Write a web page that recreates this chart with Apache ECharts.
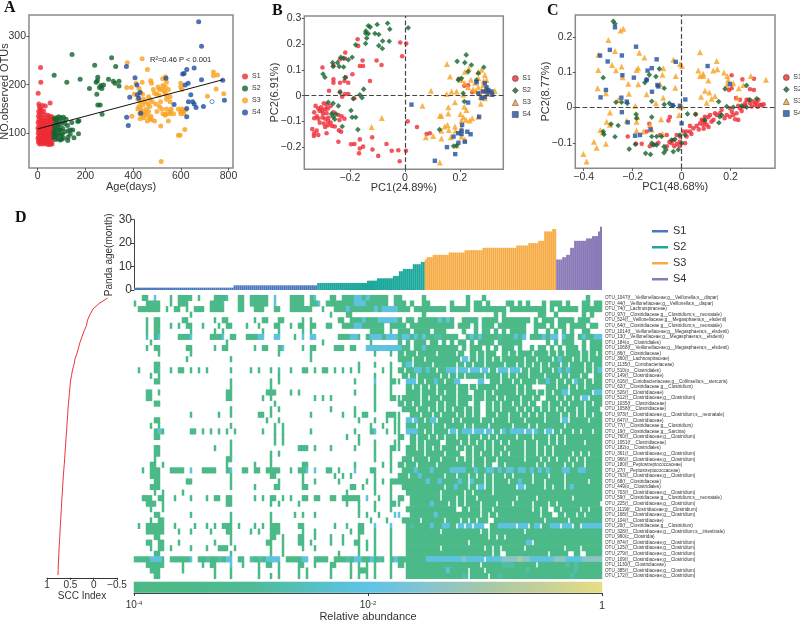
<!DOCTYPE html>
<html><head><meta charset="utf-8"><style>html,body{margin:0;background:#fff}#c{width:800px;height:620px}</style>
<script src="https://cdn.jsdelivr.net/npm/echarts@6/dist/echarts.min.js"></script></head>
<body><div id="c"></div>
<script>
// ---------- Panel A: age (days) vs observed OTUs ----------
const a1=[[12,235],[13,205],[2,182],[5,160],[7,155],[20,157],[32,156],[52,162],[10,150],[4,145],[14,148],[25,146],[8,140],[18,141],[30,138],[42,137],[50,135],[60,134],[3,135],[12,133],[22,132],[35,131],[46,129],[56,128],[64,130],[5,128],[15,127],[27,126],[38,124],[48,122],[58,121],[66,124],[2,122],[10,121],[20,120],[31,119],[41,117],[52,116],[62,117],[6,116],[16,114],[25,113],[36,112],[45,110],[56,110],[65,112],[1,111],[11,109],[21,108],[30,107],[40,105],[50,104],[60,105],[4,106],[14,103],[24,102],[33,101],[44,100],[54,99],[63,99],[2,100],[9,98],[19,97],[28,96],[38,95],[48,94],[58,93],[66,95],[5,93],[15,92],[25,91],[35,90],[45,89],[55,88],[62,90],[1,90],[10,88],[20,87],[30,85],[40,84],[50,83],[60,84],[6,85],[16,83],[26,82],[36,81],[46,80],[56,79],[3,82],[12,80],[22,78],[32,79],[42,77],[52,77],[60,78],[8,78],[18,103],[28,118],[42,126],[34,97],[24,124],[55,113],[47,102],[37,108],[13,95],[65,103]];
const a2=[[144,262],[310,255],[327,237],[239,240],[69,219],[122,205],[178,211],[252,215],[250,208],[245,205],[297,211],[317,207],[324,203],[341,197],[341,207],[217,192],[248,180],[259,194],[276,199],[269,192],[265,198],[252,158],[262,158],[270,139],[173,126],[168,124],[143,122],[119,129],[108,133],[97,132],[80,127],[138,107],[147,107],[171,99],[152,91],[136,98],[126,85],[108,90],[70,130],[76,121],[88,125],[95,118],[104,124],[114,120],[125,116],[70,115],[78,109],[86,113],[95,107],[105,110],[72,102],[80,97],[88,100],[97,96],[68,92],[76,87],[85,90],[94,86],[103,98],[70,107],[82,118],[128,105],[113,103],[100,88],[90,107],[66,100],[78,132],[88,134],[127,92],[75,95]];
const a3=[[438,253],[376,245],[460,231],[737,226],[754,220],[737,218],[536,216],[524,212],[540,205],[438,205],[474,208],[477,203],[373,194],[393,194],[412,203],[505,195],[525,198],[535,195],[520,190],[530,187],[510,190],[548,190],[600,203],[600,195],[605,190],[748,191],[780,181],[712,176],[425,192],[430,185],[440,180],[485,190],[490,182],[500,180],[510,178],[540,178],[555,175],[465,175],[470,170],[450,165],[462,160],[480,165],[495,160],[515,165],[540,170],[555,165],[420,170],[430,165],[440,158],[425,155],[432,150],[440,145],[455,150],[470,155],[440,138],[420,150],[445,132],[458,137],[470,130],[475,135],[490,125],[540,140],[555,145],[525,140],[535,137],[548,125],[560,150],[570,140],[590,150],[600,145],[605,150],[610,145],[620,148],[395,135],[516,115],[617,108],[590,96],[597,96],[518,42],[478,128],[460,125],[540,150],[555,140],[465,145],[430,130],[510,155],[500,145],[520,150],[445,170],[428,140],[450,142],[405,180],[535,182],[600,140],[612,140]];
const a4=[[675,329],[687,279],[656,234],[625,231],[614,223],[608,222],[687,210],[776,209],[631,203],[618,199],[372,237],[408,214],[416,199],[538,213],[386,174],[429,184],[418,179],[424,172],[642,179],[632,165],[650,165],[656,160],[664,153],[695,155],[783,168],[572,159],[625,151],[625,134],[432,141],[373,133],[380,116]];
const a4Open=[[731,165]];
const regressionLine=[[0,109],[776,210]];
const aLegend=['A-S1','A-S2','A-S3','A-S4'];
// ---------- Panel B: PCoA ----------
const b1=[[-.017,.206],[.005,.202],[-.01,.153],[-.103,.136],[-.085,.119],[-.17,.193],[-.172,.219],[-.217,.167],[-.236,.141],[-.218,.144],[-.26,.117],[-.3,.109],[-.154,.136],[-.164,.115],[-.152,.115],[-.127,.057],[-.191,.083],[-.215,.071],[-.22,.057],[-.206,.05],[-.236,.05],[-.26,.063],[-.26,.05],[-.276,.019],[-.236,.016],[-.218,.006],[-.206,.006],[-.228,-.004],[-.184,-.01],
[-.325,-.04],[-.315,-.05],[-.305,-.045],[-.295,-.03],[-.285,-.035],[-.31,-.06],[-.3,-.058],[-.29,-.052],[-.28,-.05],[-.27,-.04],[-.33,-.065],[-.32,-.08],[-.298,-.07],[-.285,-.068],[-.33,-.088],[-.315,-.09],[-.3,-.085],[-.29,-.09],[-.278,-.086],[-.26,-.065],[-.242,-.075],[-.23,-.08],[-.31,-.105],[-.295,-.108],[-.28,-.1],[-.27,-.105],[-.255,-.12],[-.238,-.095],[-.22,-.09],[-.29,-.122],[-.28,-.115],[-.265,-.118],[-.24,-.135],[-.232,-.14],
[-.285,-.146],[-.331,-.157],[-.33,-.146],[-.337,-.13],[-.321,-.136],[-.315,-.153],[-.242,-.179],[-.196,-.189],[-.184,-.188],[-.164,-.17],[-.119,-.162],[-.152,-.198],[-.164,-.205],[-.167,-.224],[-.118,-.209],[-.097,-.234],[-.067,-.188],[-.048,-.214],[-.024,-.212],[.004,-.214],[-.019,-.255],[.01,-.1],[.044,-.122],[.079,-.149],[.091,-.146],[.245,.013],[.196,.065],[.23,.04],[.216,.038],[.293,.018]];
const b2=[[.012,.263],[-.063,.281],[-.101,.276],[-.133,.271],[-.126,.266],[-.055,.258],[-.142,.251],[-.143,.242],[-.133,.24],[-.109,.241],[-.095,.237],[-.057,.211],[-.081,.212],[-.095,.194],[-.082,.183],[-.139,.223],[-.143,.202],[-.179,.197],[-.192,.149],[-.233,.149],[-.224,.145],[-.206,.139],[-.263,.128],[-.245,.128],[-.261,.113],[-.239,.113],[-.223,.111],[-.298,.084],[-.291,.071],[-.218,.07],[-.15,.025],[-.236,.012],[-.164,.003],[-.188,-.012],[-.156,-.008],[-.279,-.026],[-.261,-.03],[-.242,-.04],[-.196,-.058],[-.267,-.071],[-.251,-.071],[-.261,-.082],[-.255,-.092],[-.192,-.084],[-.179,-.084],[-.228,-.12],[-.171,-.132],[.223,.158],[.19,.133],[.218,.128],[.242,.119],[.287,.11],[.194,.061],[.206,.067],[.212,.009],[.216,-.023],[.126,-.132],[.177,-.196],[.188,-.194],[.26,.06],[.23,.093],[.267,.087]];
const b3=[[.153,.123],[.164,.074],[.095,.019],[.064,-.039],[-.084,-.087],[-.121,-.122],[.127,-.078],[.133,-.078],[.158,-.069],[.158,-.045],[.182,-.026],[.216,-.043],[.224,-.056],[.202,-.071],[.213,-.084],[.206,-.097],[.222,-.094],[.236,-.097],[.245,-.088],[.267,-.082],[.155,-.114],[.145,-.12],[.16,-.133],[.133,-.136],[.182,-.12],[.184,-.136],[.206,-.127],[.103,-.157],[.076,-.162],[.133,-.166],[.167,-.162],[.206,-.159],[.218,-.17],[.127,-.26],[.188,-.194],[.218,.093],[.233,.106],[.267,.093],[.279,.1],[.291,.08],[.206,.061],[.218,.048],[.188,.016],[.17,.016],[.152,.006],[.23,.032],[.248,.025],[.267,.032],[.279,.021],[.285,.041],[.297,.032],[.313,.016],[.327,.019],[.276,-.004],[.291,-.01],[.303,.006],[.276,-.032],[.212,.003],[.267,.067],[.297,.061],[.273,.009],[.255,.05],[.24,.062],[.258,.018],[.286,.058],[.3,.02]];
const b4=[[.024,-.035],[.109,-.253],[.153,-.2],[.183,-.227],[.195,-.183],[.177,-.159],[.194,-.146],[.208,-.114],[.206,-.136],[.206,-.149],[.227,-.14],[.239,-.15],[.218,-.179],[.23,-.027],[.27,-.082],[.261,.052],[.291,.048],[.297,.032],[.303,.022],[.315,.016],[.318,.003],[.291,-.006],[.279,-.01],[.267,.009],[.285,.016],[.3,.012]];
const bLegend=['B-S1','B-S2','B-S3','B-S4'];
// ---------- Panel C: PCoA ----------
const c1=[[-.22,-.082],[-.186,-.103],[-.163,-.103],[-.143,-.068],[-.132,-.046],[-.048,-.027],[-.054,-.037],[-.088,-.078],[-.061,-.078],[-.041,-.101],[-.02,-.103],[-.007,-.097],[.014,-.101],[.02,-.082],[.034,-.068],[.048,-.059],[.061,-.052],[.075,-.045],[.082,-.035],[.095,-.026],[.109,-.027],[.088,-.049],[.102,-.049],[.116,-.021],[.136,-.016],[.156,-.016],[.184,-.021],[.197,-.026],[.211,-.021],[.224,-.016],[.238,-.002],[.252,.003],[.265,.022],[.279,.012],[.293,.017],[.306,.014],[.32,.008],[.313,.022],[.204,.092],[.248,.08],[.295,.082],[.279,.052],[.295,.05],[.193,.05],[.204,.055],[.222,.027],[.238,.022],[.218,-.033],[.231,-.035],[.143,-.021],[.163,-.007],[.197,-.002],[.231,.005],[.259,.012],[.272,.022],[.286,.003],[.299,.008],[.327,.007],[-.007,-.082],[-.02,-.078],[-.034,-.092],[.007,-.068],[.02,-.068],[.034,-.052],[.057,-.019],[.088,-.037],[.095,-.04],[.122,-.04],[-.11,-.105],[-.095,-.1],[-.13,-.11],[-.06,-.11],[-.05,-.098],[-.03,-.11],[-.008,-.11],[.04,-.075],[.07,-.062],[.09,-.06],[.11,-.055],[.13,-.035],[.175,-.03],[.205,-.012],[.245,-.01],[.26,.005],[.31,.002],[.335,.009]];
const c2=[[-.279,.245],[-.272,.238],[-.32,.085],[-.091,.11],[-.105,.088],[-.132,.093],[-.143,.079],[-.15,.071],[-.071,.055],[-.122,.018],[-.268,.015],[-.245,.015],[-.222,.012],[-.071,.009],[-.05,.012],[-.034,.005],[-.186,-.019],[-.184,-.03],[-.122,-.027],[-.288,-.047],[-.259,-.051],[-.317,-.076],[-.32,-.068],[-.272,-.083],[-.189,-.104],[-.214,-.118],[-.147,-.13],[-.127,-.133],[-.122,-.101],[-.116,-.106],[-.102,-.106],[-.122,-.082],[-.102,-.082],[-.082,-.082],[-.072,-.111],[-.064,-.12],[-.072,-.128],[-.034,-.125],[-.014,-.12],[-.041,-.092],[-.027,-.09],[-.007,-.078],[.014,-.078],[0,-.101],[.024,-.018],[.057,-.019],[.177,.053],[.265,.063],[.151,.017],[.184,.003],[.156,-.026],[.152,-.043],[.095,-.035],[.163,-.021],[.245,.005],[.265,.001],[.306,.025],[.279,.022],[.211,.001]];
const c3=[[-.299,.192],[-.238,.224],[-.249,.219],[-.34,.15],[-.272,.161],[-.173,.156],[-.152,.142],[-.34,.107],[-.245,.117],[-.268,.106],[-.177,.112],[-.184,.107],[-.284,.121],[-.241,.086],[-.218,.068],[-.177,.066],[-.343,.055],[-.309,.041],[-.215,.039],[-.143,.038],[-.075,.112],[-.078,.093],[-.088,.067],[-.024,.09],[-.026,.056],[-.034,.136],[-.007,.124],[.001,.118],[-.075,.028],[-.105,.012],[-.189,.005],[-.259,.022],[-.293,-.014],[-.007,.003],[.001,.003],[-.011,-.021],[-.084,-.033],[-.224,-.037],[-.184,-.04],[-.181,-.027],[-.306,-.04],[-.293,-.049],[-.332,-.064],[-.322,-.07],[-.358,-.097],[-.347,-.114],[-.309,-.103],[-.401,-.132],[-.388,-.153],[-.129,-.049],[-.122,-.062],[-.184,-.065],[-.156,-.068],[-.078,-.075],[.075,.157],[.143,.132],[.068,.105],[.088,.096],[.075,.09],[.088,.09],[.109,.077],[.129,.105],[.146,.109],[.173,.1],[.186,.09],[.19,.079],[.211,.069],[.233,.055],[.252,.064],[.282,.09],[.344,.079],[.095,.048],[.113,.043],[.079,.031],[.136,.033],[.122,.025],[.102,.014],[.227,.027],[.184,.064]];
const c4=[[-.272,.228],[-.293,.164],[-.333,.148],[-.244,.148],[-.186,.173],[-.302,.131],[-.242,.092],[-.195,.085],[-.139,.105],[-.122,.112],[-.102,.137],[-.024,.13],[.106,.118],[-.099,.064],[-.121,.045],[-.309,.05],[-.331,.029],[-.246,.028],[-.224,.017],[-.244,-.013],[-.22,-.042],[.015,.023],[-.038,.007],[-.007,.005],[0,-.045],[.197,.067],[-.17,-.078],[-.19,-.08],[-.127,-.062],[-.143,.079],[-.095,.06]];
const cLegend=['C-S1','C-S2','C-S3','C-S4'];
// ---------- Panel D: age bars ----------
const ageS1=[1,1,1,1,1,1,1,1,1,1,1,1,1,1,1,1,1,1,1,1,1,1,1,1,1,1,1,1,1,1,1,1,1,1,1,1,1,1,1,1,1,1,1,1,1,1,1,1,1,1,2,2,2,2,2,2,2,2,2,2,2,2,2,2,2,2,2,2,2,2,2,2,2,2,2,2,2,2,2,2,2,2,2,2,2,2,2,2,2,2,2,2];
const ageS2=[3,3,3,3,3,3,3,3,3,3,3,3,3,3,3,3,3,3,3,3,3,3,3,3,3,4,4,4,4,4,5,5,5,5,5,5,5,5,6,6,6,8,8,9,9,9,9,9,11,11,11,11,12,12];
const ageS3=[13,14,14,14,15,15,15,15,15,15,15,15,16,16,16,16,16,16,16,16,17,17,17,17,17,17,17,17,17,18,18,18,18,18,18,18,18,18,18,18,18,18,18,18,18,18,19,19,19,19,19,19,20,20,20,20,20,21,21,21,25,25,25,25,26,26];
const ageS4=[13,13,13,14,14,15,15,18,18,21,21,21,21,21,21,22,22,22,23,23,23,25,27];
const dLegend=['D-S1','D-S2','D-S3','D-S4'];
// ---------- Panel D: OTU labels ----------
const otuLabels=['OTU_1047(f__Veillonellaceae;g__Veillonella;s__dispar)','OTU_44(f__Veillonellaceae;g__Veillonella;s__dispar)','OTU_74(f__Lachnospiraceae)','OTU_97(f__Clostridiaceae;g__Clostridium;s__neonatale)','OTU_524(f__Veillonellaceae;g__Megasphaera;s__elsdenii)','OTU_64(f__Clostridiaceae;g__Clostridium;s__neonatale)','OTU_1014(f__Veillonellaceae;g__Megasphaera;s__elsdenii)','OTU_13(f__Veillonellaceae;g__Megasphaera;s__elsdenii)','OTU_184(o__Clostridiales)','OTU_1068(f__Veillonellaceae;g__Megasphaera;s__elsdenii)','OTU_86(f__Clostridiaceae)','OTU_360(f__Lachnospiraceae)','OTU_1135(f__Coriobacteriaceae)','OTU_510(o__Clostridiales)','OTU_149(f__Clostridiaceae)','OTU_616(f__Coriobacteriaceae;g__Collinsella;s__stercoris)','OTU_62(f__Clostridiaceae;g__Clostridium)','OTU_526(f__Clostridiaceae)','OTU_512(f__Clostridiaceae;g__Clostridium)','OTU_1035(f__Clostridiaceae)','OTU_1058(f__Clostridiaceae)','OTU_973(f__Clostridiaceae;g__Clostridium;s__neonatale)','OTU_647(f__Clostridiaceae)','OTU_77(f__Clostridiaceae;g__Clostridium)','OTU_19(f__Clostridiaceae;g__Sarcina)','OTU_760(f__Clostridiaceae;g__Clostridium)','OTU_1051(f__Clostridiaceae)','OTU_182(o__Clostridiales)','OTU_361(f__Clostridiaceae;g__Clostridium)','OTU_966(f__Clostridiaceae;g__Clostridium)','OTU_180(f__Peptostreptococcaceae)','OTU_27(f__Peptostreptococcaceae)','OTU_763(f__Clostridiaceae;g__Clostridium)','OTU_68(f__Clostridiaceae)','OTU_449(o__Clostridiales)','OTU_703(f__Clostridiaceae;g__Clostridium)','OTU_59(f__Clostridiaceae;g__Clostridium;s__neonatale)','OTU_225(f__Clostridiaceae;g__Clostridium)','OTU_1119(f__Clostridiaceae;g__Clostridium)','OTU_168(f__Clostridiaceae;g__Clostridium)','OTU_104(f__Clostridiaceae)','OTU_20(f__Clostridiaceae;g__Clostridium)','OTU_328(f__Clostridiaceae;g__Clostridium;s__intestinale)','OTU_960(c__Clostridia)','OTU_874(f__Clostridiaceae;g__Clostridium)','OTU_125(f__Clostridiaceae;g__Clostridium)','OTU_279(f__Clostridiaceae;g__Clostridium)','OTU_109(f__Clostridiaceae;g__Clostridium)','OTU_1130(f__Clostridiaceae)','OTU_385(f__Clostridiaceae;g__Clostridium)','OTU_172(f__Clostridiaceae;g__Clostridium)'];
// SCC index per OTU row
const sccValues=[-.3,-.114,.014,.079,.132,.154,.207,.25,.293,.325,.357,.4,.421,.454,.475,.496,.507,.518,.529,.539,.55,.556,.565,.573,.58,.59,.597,.606,.613,.622,.63,.64,.648,.657,.664,.67,.679,.686,.692,.7,.706,.713,.72,.726,.733,.74,.745,.752,.756,.76,.764];
const sccTicks=[1,.5,0,-.5];
// Heatmap cells, one string per OTU row: . absent, 1..5 abundance class
const heatLeft=["..11.3...1.1111.1...1112..11.11111.3....","1..1111..1.111.....1112...11.11111.3...1",".111111.1.11.1.111.1111...11..111..11...","..............1.........................","...1.11.....11......1.11......1.11..11..","...1.11..1.1.11..1...1.11...1..1...11..1","...1.11.......1.....1.1.........1...1...","...2.13....1113....1113.11..11133..33...","....1..................1................","...1.11......11.....1.11......1.11..13..","......1.......1.....................1...",".............1..........1...............",".....11.................................",".1...12..1.11.1.1.1.....1....1.1..1.2..1","....1.1.............................1...",".....11.................1.........1.1...","........................1.........1.....","...11.1................11........111....","...11..................11.......1.1.....",".....11............................1....","........................1.........1.1...","..............1......1..1......11.1.....",".....11..........................1..1...","....1.1.................1..........1.1..",".....131......11.1.1.1.1.1......1..1.1..",".....11............................1.1..","........................1..........1.1..",".....11.............1...1...............",".....11.................1.........1.1...",".....1.................11.........1.....","....11.1...............1......1...1.....","..1.111..1111.3..1111..13..11.11.1111..1","....111.................1.........11....",".....11......11.........1...........1...","....111.................1.....1....11...",".....1.1....1...........................","..111.11..1...1...1.11.11.....1.1.11.1.1","...111.1...............11.........1.1...","....1..1................................",".....11.......1.........1.........1.....","....1.11................1.........1.....",".1.11111..1....1..1.1.111.1...1.1.111...","...11111...1..1....1...11....1.1..111...",".....11.................1.........11.1..","...11.11...1........1...1........11..1..","....1.11.1....1...1..111.1........1..1..",".....11.................1.........1..1..","11113331.111113.112112133.11.21213333.11","...11111....1....1.11...3..1...1.11.1...","....111.....1.......1...1......1....1...",".....11.............1...1......1..1.1..."];
const heatMid=["1111.13...11.111331311111.11.....1......","1111.113.1111111333111111.111.1..11.....","111111..1..1113111111313333111.11111111.","..........1...11.................1......","...1.1......11.1113111333331.11.11111313","1.11.11..11..11133111111.1111.1111111111","...1.1..............1111.1.111.1111.111.",".1.3.33.....111331.133313331331313112211","........1...........1......1.1.111.11.1.","...1.11....111.11..33333333311.113111111",".....1...............1...1.1.11.1111.111",".....1.....................111.11.111111",".................1...1...1..13.1111.1111","1..11.1.11.1.1.1.1.....1.1.1.1133131.113",".....................1...1..1.1.11111.1.","................1....3...11..33.1.1131.1",".....................1...1...1.1.1.1.111","1.1.............1....1...1...111.111.1.1","......1.1.1..........1...11.1111.1.11.11",".....................1.....1.1.1.111.1.1","..........1.....1....1......111.11.1.1.1",".....1.......1..1.11....111...11.11.1.11",".................1...1..1.1..3.31.13.111","....................1..1..1..11.111.11.1",".....1..........1...13..1.1..3331.1.111.","..............1..1.........1..1.11.1.1.1",".................1...1....1...1.1.111..1","..111.1...1.....1....1...11..11.1.1.1.11",".....................1...1...1111.1111.1",".....................1...1..11.111.11.11","...11...........1......1.1.1.11.1111.111","1.113.3..11.1...3...11...1..111311131111","...1.......1.1.1.....1.....11.11311111.1","...1..1.....1......1.1.1.111111111311311","...11..........11.1..1...1..1111111111.1","..............1......1...1...11111111.11","1..11.11..11.11111.3..1..1.1..1111111.11","..1...........1..1...1...11...111113111.",".................1...1...1...11111111111",".1.1..1..........1.1..1...3...1111113111","....................1...1...1111.11111.1","..11.......1..2..11..3...3...12111131133","...1..1........1.11..1...1...11111111.11","..11..1...1..1...1...1...1...11111111111","..11.1....1..1..11.1.1...1...11111111111","...1..1..........1.1.1...1...11111111.11","............1....1...1...1...11111111111","11133.1111.1112133113121.131111111333333","..11..1...11...1.1.1.1...1.1.11111111111","..1.1.....1....1.111.1...1...11111111113","..1.1.....1....1.1.1.1...1...11111111111"];
const heatRight=["....1...1.........................1...","1...1.11.1....11.1.1...1.111.1...11.11","11111.11111111.111111111.1.11111.11111","...........1.1........11..1......1.1..","1..1111.1111.1111111.1.111.1111.111...","1.111.1.111.1111111..111.1.11.1111.11.","...1..1.11.1.1.1111..1..1.1.1.1..11...","11..131311112111313.1113133.311.131133","1.11.1.1111.111111......1.1.111..1.111","11.1.111.1.1.111.1..1.11.1.1.111.1.111","1.1..1.1.11..1.1.111.111.1.1.111.1.1.1","11.3.1.1.1.1.11111.11.111.1311.1.1.111","1.1.1.11.1111.11.1.1.1.1.11.1.111.1.11","3.33.33.3.1.33.33.1.11.11.1313111.1.13","1.1.1111.111.1.1.11.111.111.1.11.1..11","13.....3..11.11.1.111.1131.1.1.31.1.11","1.11.1.1111.1111.1.1....11.11.1.1.1111","1.11..11.1.11111.1.11.1.1.113.11111.33","1.111.11.11.1.111.11.1..11.1.1.1.3.111","1.11..1..1.1.11.1.1.1..1.11.1.111.1.11",".11.1.1..1.1.111.1.1.1.1.1.1.11.1.111.","1.1.1.1..11.11.11.1.1.1.111.1.1.1.1.11",".1.1111.11.111.111.1111.111.3.1111.111","111.1.111.11111.111.1.111111.111111111","3.133.33.3.1.31333.3.31.3.1.11.1.11.11","1.11.11.1.1.1111.111.111.1.1.111111111","11.1.1.1.1.1.1.111.11.11.1.1.1111.1111","1.1.1.11.1.11.1111.11.1.1.111111111111","11..1.1.11.1.1.111.11.1.1.1111.1.1.111","1.1.1.11.11.111111.111.1.1.11.1.1.1111","11111.11.1..1.1111111.1.1111.1.11.1111","33331131133131331331313131113311331111","1.11.1.1.1.11.1.1111.111.111.111111111","1131.311.1.111.11311.11.1111.11111.111","1311.1.3.1.11111.3.1111.1.11.131111111","111.1.1111.111111111111111111111111111","1.1.11.111111111.1111.11111111.1111111","1.1.111.111.111.1111.111.1.1111111111.","1..1.11.11.111111111.1.1..1.1111.1.111","1111111.1.1.1111111111.11..1.11.1.1111","11.1.1.11..111111111111.11111.11111111","1.3.3.33..113333.33.13.1133.33.1.33333","1111111.1.11111111.1111111111111111111","111111111.1.1.111111111111111111111111","1111.111111111111113.11111111111111111","11111111.1.1.11111.111111111.111.11111","1111111111.1..1111111111.1111..1..1111","33343333.33334444544333333444333344444","1111111.1111122211111.1111111212111111","1111.111.111111111121111111111121111111","1112.1111.1121111111111111111121111111"];
const abundanceClass={'1':-3.7,'2':-2.8,'3':-2.1,'4':-1.4,'5':-.8};
const colorStops=['#4cb985','#4cb98a','#4fbb96','#56bfc0','#60c3e8','#85c4d0','#a5c8a8','#c5d098','#e8de82'];
const colorbarTicks=[-4,-2,0];

// ---------- assembly ----------
const C={S1:'#ee2a35',S2:'#13632e',S3:'#f9a11f',S4:'#1f4ea1'};
const ff='"Liberation Sans",Arial,sans-serif';
const txt='#333';
const heatRows=otuLabels.map((_,i)=>heatLeft[i].padEnd(39,'.').slice(0,39)+heatMid[i].padEnd(40,'.').slice(0,40)+heatRight[i].padEnd(38,'.').slice(0,38));
// each class char covers two 2px heat columns; sparse left part keeps lone cells thin, dense right part keeps gaps thin
const heatData=[];
heatRows.forEach((r,y)=>{for(let x=0;x<r.length;x++){const ch=r[x];if(ch==='.'){if(x>=66&&r[x-1]!=='.'&&y>=10)heatData.push([2*x,y,abundanceClass[r[x-1]]]);continue;}const v=abundanceClass[ch];heatData.push([2*x,y,v]);if(x>=66||(r[x+1]&&r[x+1]!=='.'))heatData.push([2*x+1,y,v]);}});
const colIdx=[...Array(234).keys()].map(String);
const rampCols=[...Array(234).keys()].map(String);
const rampData=rampCols.map((c,i)=>[i,0,-4+4*(i+.5)/234]);
const ageAll=ageS1.concat(ageS2,ageS3,ageS4);
const barCats=ageAll.map((_,i)=>String(i));
function pad(arr,before){const n=ageAll.length;const out=new Array(n).fill('-');arr.forEach((v,i)=>out[before+i]=v);return out;}
const minus=v=>String(v).replace('-','\u2212');
function axis(min,max,ticks,name,gap,margin){return {type:'value',min,max,name,nameLocation:'middle',nameGap:gap,nameMoveOverlap:false,nameTextStyle:{color:txt,fontSize:11,fontFamily:ff},
 splitLine:{show:false},axisLine:{show:false,onZero:false},axisTick:{show:true,length:2.5,customValues:ticks,lineStyle:{color:'#555'}},
 axisLabel:{customValues:ticks,fontSize:10.5,color:txt,margin:margin,fontFamily:ff,formatter:v=>minus(v),showMinLabel:true,showMaxLabel:true}};}
const dashed={silent:true,symbol:'none',animation:false,label:{show:false},lineStyle:{type:'dashed',color:'#444',width:1.2},data:[{xAxis:0},{yAxis:0}]};
function sc(name,data,g,sym,size,color,extra){return Object.assign({type:'scatter',name,data,xAxisIndex:g,yAxisIndex:g,symbol:sym,symbolSize:size,itemStyle:{color},silent:true,animation:false},extra||{});}
function leg(names,left,top,gap,border,icons){return {data:names.map((n,i)=>({name:n,icon:icons[i]})),formatter:n=>n.split('-')[1],orient:'vertical',left,top,itemWidth:6,itemHeight:6,itemGap:gap,padding:0,selectedMode:false,textStyle:{fontSize:7,color:txt,fontFamily:ff,padding:[0,0,0,-1]},
 itemStyle:border?{borderColor:'#333',borderWidth:.6}:{}};}
const grids=[
 {left:29,top:15,width:204,height:153},
 {left:304.3,top:16,width:199,height:153.3},
 {left:575.3,top:15,width:199.7,height:153.3}
].map(g=>Object.assign(g,{show:true,borderColor:'#8a8a8a',borderWidth:1.5,backgroundColor:'#fff'}));
grids.push({left:134,top:219.7,width:468,height:70.3},{left:134,top:295.2,width:468,height:283.6},{left:47,top:295.2,width:70,height:282.6},{left:134,top:592,width:468,height:1},{left:134,top:582,width:468,height:10.5});
grids.forEach(g=>{g.outerBoundsMode='none';g.containLabel=false;});
const fmtExp=v=>v===0?'1':'{b|10}{s|'+v+'}';
const option={animation:false,backgroundColor:'#fff',textStyle:{fontFamily:ff},grid:grids,
 xAxis:[
  axis(-36.5,819,[0,200,400,600,800],'Age(days)',13.5,3),
  axis(-.366,.358,[-.2,0,.2],'PC1(24.89%)',13.5,3),
  axis(-.434,.381,[-.4,-.2,0,.2],'PC1(48.68%)',13.5,3),
  {type:'category',data:barCats,show:false},
  {type:'category',data:colIdx,show:false},
  {type:'value',inverse:true,min:-.5,max:1,position:'bottom',axisLine:{show:true,onZero:false,lineStyle:{color:'#333'}},axisTick:{show:true,customValues:sccTicks,length:2,lineStyle:{color:'#333'}},splitLine:{show:false},
    axisLabel:{customValues:sccTicks,fontSize:10,color:txt,margin:2,fontFamily:ff,formatter:v=>minus(v),showMinLabel:true,showMaxLabel:true},name:'SCC Index',nameLocation:'middle',nameGap:13,nameMoveOverlap:false,nameTextStyle:{fontSize:10,color:txt,fontFamily:ff}},
  {type:'value',min:-4,max:0,position:'bottom',axisLine:{show:true,onZero:false,lineStyle:{color:'#444'}},axisTick:{show:true,customValues:colorbarTicks,length:3,lineStyle:{color:'#333'}},splitLine:{show:false},
    axisLabel:{customValues:colorbarTicks,margin:7,fontSize:11,color:txt,fontFamily:ff,formatter:fmtExp,showMinLabel:true,showMaxLabel:true,rich:{b:{fontSize:10,color:txt,fontFamily:ff},s:{fontSize:6,color:txt,fontFamily:ff,verticalAlign:'top',padding:[0,0,4,0]}}},name:'Relative abundance',nameLocation:'middle',nameGap:18.5,nameMoveOverlap:false,nameTextStyle:{fontSize:11,color:txt,fontFamily:ff}},
  {type:'category',data:rampCols,show:false}
 ].map((a,i)=>Object.assign(a,{gridIndex:i})),
 yAxis:[
  axis(28.7,343,[100,200,300],'NO.observed OTUs',19,3),
  axis(-.286,.309,[-.2,-.1,0,.1,.2,.3],'PC2(6.91%)',24,3),
  axis(-.1725,.263,[-.1,0,.1,.2],'PC2(8.77%)',24,3),
  {type:'value',min:0,max:30,interval:10,axisLine:{show:true,onZero:false,lineStyle:{color:'#444'}},axisTick:{show:true,length:3,lineStyle:{color:'#444'}},splitLine:{show:false},axisLabel:{fontSize:12,color:txt,margin:2,fontFamily:ff},name:'Panda age(month)',nameLocation:'middle',nameGap:20,nameMoveOverlap:false,nameTextStyle:{fontSize:10,color:txt,fontFamily:ff}},
  {type:'category',data:otuLabels,inverse:true,position:'right',axisLine:{show:false},axisTick:{show:false},axisLabel:{interval:0,fontSize:4.6,color:'#333',margin:3,fontFamily:ff},splitLine:{show:false}},
  {type:'category',data:otuLabels,inverse:true,show:false},
  {type:'category',data:['axis'],show:false},
  {type:'category',data:['bar'],show:false}
 ].map((a,i)=>Object.assign(a,{gridIndex:i})),
 visualMap:{type:'continuous',show:false,seriesIndex:[19,20],dimension:2,min:-4,max:0,inRange:{color:colorStops}},
 legend:[
  leg(aLegend,242,73,5,false,['circle','circle','circle','circle']),
  leg(bLegend,512,75,5,true,['circle','diamond','triangle','rect']),
  leg(cLegend,783,74,5,true,['circle','diamond','triangle','rect']),
  {data:dLegend,formatter:n=>n.split('-')[1],orient:'vertical',left:652,top:224.5,itemWidth:16,itemHeight:2.5,itemGap:2.5,icon:'rect',padding:0,selectedMode:false,textStyle:{fontSize:11,color:txt,fontFamily:ff,lineHeight:13.5,height:13.5}}
 ],
 series:[
  sc('A-S1',a1,0,'circle',5,C.S1),
  sc('A-S2',a2,0,'circle',5,C.S2),
  sc('A-S3',a3,0,'circle',5,C.S3),
  sc('A-S4',a4,0,'circle',5,C.S4),
  sc('A-S4 open',a4Open,0,'circle',4,'#fff',{itemStyle:{color:'#fff',borderColor:C.S4,borderWidth:.8}}),
  {type:'line',name:'fit',data:regressionLine,xAxisIndex:0,yAxisIndex:0,showSymbol:false,symbol:'none',silent:true,lineStyle:{color:'#111',width:1}},
  sc('B-S1',b1,1,'circle',4.6,C.S1,{markLine:dashed}),
  sc('B-S3',b3,1,'triangle',6,C.S3),
  sc('B-S2',b2,1,'diamond',5.6,C.S2),
  sc('B-S4',b4,1,'rect',4.4,C.S4),
  sc('C-S1',c1,2,'circle',4.6,C.S1,{markLine:dashed}),
  sc('C-S3',c3,2,'triangle',6,C.S3),
  sc('C-S2',c2,2,'diamond',5.6,C.S2),
  sc('C-S4',c4,2,'rect',4.4,C.S4),
  ...[['D-S1',ageS1,0,'#4a78be'],['D-S2',ageS2,ageS1.length,'#1ca89c'],['D-S3',ageS3,ageS1.length+ageS2.length,'#f6ab45'],['D-S4',ageS4,ageS1.length+ageS2.length+ageS3.length,'#8a7ab8']].map(d=>({type:'bar',name:d[0],data:pad(d[1],d[2]),stack:'age',xAxisIndex:3,yAxisIndex:3,barWidth:'100%',silent:true,itemStyle:{color:d[3],borderWidth:0}})),
  {type:'line',name:'SCC',data:sccValues.map((v,i)=>[v,otuLabels[i]]),xAxisIndex:5,yAxisIndex:5,showSymbol:false,symbol:'none',silent:true,lineStyle:{color:'#e8343a',width:1}},
  {type:'heatmap',name:'abundance',data:heatData,xAxisIndex:4,yAxisIndex:4,silent:true,progressive:0,itemStyle:{borderWidth:0}},
  {type:'heatmap',name:'colorbar',data:rampData,xAxisIndex:7,yAxisIndex:7,silent:true,progressive:0,itemStyle:{borderWidth:0}}
 ],
 graphic:[
  ['A',4,8],['B',272,11],['C',547,11],['D',15,218]
 ].map(p=>({type:'text',left:p[1],top:p[2]-8,style:{text:p[0],font:'bold 16px "Liberation Serif",serif',fill:'#111'}})).concat([
  {type:'text',left:150,top:56,style:{text:'R²=0.46 P < 0.001',font:'7.5px "Liberation Sans",sans-serif',fill:'#222'}}
 ])
};
echarts.init(document.getElementById('c'),null,{renderer:'canvas'}).setOption(option);
</script></body></html>
